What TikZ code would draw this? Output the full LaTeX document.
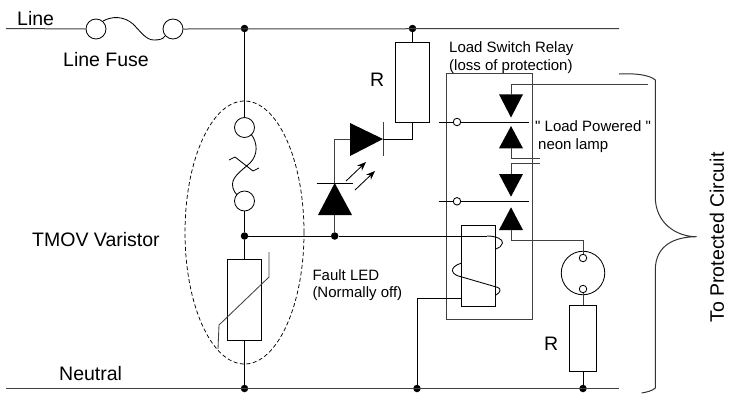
\documentclass[tikz,border=0pt]{standalone}
\usepackage{fontspec}
\setmainfont{Liberation Sans}
\newfontfamily\rawfont[Ligatures=ResetAll]{Liberation Sans}
\usetikzlibrary{arrows.meta}
\tikzset{
  wire/.style={line width=0.85bp,black},
  rail/.style={line width=1bp,black!75},
  jdot/.style={circle,fill=black,inner sep=0,minimum size=7.5bp},
  ring/.style={circle,draw,line width=0.85bp,fill=white,inner sep=0,minimum size=#1},
  res/.style={draw,line width=1bp,inner sep=0,outer sep=0},
  big/.style={font=\fontsize{19.5bp}{22bp}\selectfont,anchor=base west,inner sep=0},
  small/.style={font=\fontsize{15bp}{17bp}\selectfont,anchor=base west,inner sep=0},
  diode/.style={fill=black},
}
\begin{document}
\begin{tikzpicture}[x=1bp,y=-1bp]
\useasboundingbox (0,0) rectangle (735,394);
% rails
\coordinate (LineL) at (6,28.5); \coordinate (LineR) at (619,28.5);
\coordinate (NeuL) at (6,388.5); \coordinate (NeuR) at (619,388.5);
\node[ring=20bp] (F1) at (96,29) {};
\node[ring=20bp] (F2) at (173,29) {};
\node[jdot] (J1) at (244.5,28.5) {};
\node[jdot] (J2) at (412.5,28.5) {};
\node[jdot] (J3) at (244.5,388.5) {};
\node[jdot] (J4) at (417,388.5) {};
\node[jdot] (J5) at (583,388.5) {};
\node[jdot] (J6) at (244.5,236) {};
\node[jdot] (J7) at (334.7,236) {};
\draw[rail] (LineL) -- (F1.west);
\draw[rail] (F2.east) -- (LineR);
\draw[rail] (NeuL) -- (NeuR);
% line fuse
\draw[wire] (103,21) .. controls (112,16) and (124,16) .. (133,24)
  .. controls (141,32) and (146,40) .. (154,40) .. controls (160,40) and (163,39) .. (165,36);
% TMOV
\node[ring=20bp] (T1) at (244.5,127.5) {};
\node[ring=20bp] (T2) at (244.5,201) {};
\node[res,minimum width=33.5bp,minimum height=80.5bp] (V) at (244.5,300) {};
\draw[wire] (J1) -- (T1);
\draw[wire] (T2) -- (J6);
\draw[wire] (J6) -- (V);
\draw[wire] (V) -- (J3);
\draw[wire] (251,134) .. controls (258,143) and (258,155) .. (250,163)
  .. controls (240,172) and (230,178) .. (233,188) .. controls (234,191) and (235,193) .. (237,195);
\draw[wire] (229,160) -- (235,157) -- (253,171) -- (259,168);
\draw[wire,black!75] (218,349) -- (219,325) -- (269,277) -- (269,252);
\draw[line width=0.75bp,dash pattern=on 4bp off 2.5bp] (244.5,232.5) ellipse [x radius=59.5,y radius=131.5];
% LEDs
\coordinate (D1b) at (334.7,215); \coordinate (D1a) at (334.7,183);
\fill[diode] (318,215) -- (352,215) -- (D1a) -- cycle;
\draw[wire] (316.5,183) -- (353,183);
\draw[rail] (J7) -- (D1b);
\coordinate (D2b) at (350,139); \coordinate (D2a) at (383,139);
\fill[diode] (350,123) -- (350,156) -- (D2a) -- cycle;
\draw[rail] (383,122) -- (383,156);
\draw[rail] (D1a) |- (D2b);
\node[res,minimum width=33.5bp,minimum height=80bp] (R1) at (412.5,82.3) {};
\draw[wire] (J2) -- (R1);
\draw[wire] (D2a) -| (R1.south);
\draw[wire,-{Stealth[length=9bp,width=7bp]}] (346,181) -- (366,162);
\draw[wire,-{Stealth[length=9bp,width=7bp]}] (355,190) -- (375,171);
% relay box
\draw[rail] (446,73.3) rectangle (532.3,319);
\coordinate (Top) at (648,84.5); \coordinate (TopB) at (511,84.5);
\fill[diode] (499,94.3) -- (523,94.3) -- (511,117.5) -- cycle;
\draw[rail] (Top) -- (TopB) -- (511,95);
\coordinate (M1L) at (438.7,122); \coordinate (M1R) at (529,122);
\node[ring=7.5bp] (C1) at (457,122) {};
\draw[wire] (M1L) -- (C1) -- (M1R);
\fill[diode] (499,148.3) -- (523,148.3) -- (511,126) -- cycle;
\draw[rail] (511,148) |- (540,158.3);
\draw[rail] (540,163.3) -| (511,175);
\fill[diode] (499,174) -- (523,174) -- (511,196.7) -- cycle;
\coordinate (M2L) at (438.7,201.3); \coordinate (M2R) at (529,201.3);
\node[ring=7.5bp] (C2) at (457,201.3) {};
\draw[wire] (M2L) -- (C2) -- (M2R);
\fill[diode] (499,230) -- (523,230) -- (511,207.3) -- cycle;
% lamp
\node[circle,draw,line width=0.85bp,inner sep=0,minimum size=43.5bp] (Lamp) at (583,273) {};
\node[ring=7.5bp] (LA) at (583,258) {};
\node[ring=7.5bp] (LB) at (583,289) {};
\node[res,minimum width=27.4bp,minimum height=66bp] (R2) at (583,338) {};
\draw[rail] (511,230) |- (583,240) -- (LA);
\draw[rail] (LB) -- (R2);
\draw[wire] (R2) -- (J5);
% coil
\node[res,minimum width=34bp,minimum height=80.7bp] (K) at (478.7,265.7) {};
\draw[wire] (J6) -- (J7);
\draw[wire] (J7) -- (487,236);
\draw[wire] (487,236) .. controls (496,236) and (503,239) .. (502.5,243) .. controls (502,246) and (499,248) .. (496,249);
\draw[wire] (461.7,263) .. controls (455,265) and (452,268) .. (452.5,271) .. controls (453,274) and (457,276) .. (462,277)
  -- (498,287.5) .. controls (501,289) and (501,292) .. (496,295);
\coordinate (KL) at (461.7,298.3);
\draw[wire] (KL) -| (J4);
% brace
\coordinate (BrTip) at (696.7,236.7);
\draw[line width=1bp,black!80] (619,74) .. controls (635,73) and (650,75) .. (655.3,80) -- (655.3,197)
  .. controls (655.3,222) and (675,236.7) .. (BrTip)
  .. controls (675,236.7) and (655.3,245) .. (655.3,270) -- (655.3,388) .. controls (652,391) and (647,392) .. (641.7,393);
% text
\node[big] (tLine) at (17,25) {Line};
\node[big] (tFuse) at (63,66.7) {Line Fuse};
\node[big] (tTMOV) at (32,246.7) {TMOV Varistor};
\node[big] (tNeu) at (59,380) {Neutral};
\node[big] (tR1) at (370,86.7) {R};
\node[big] (tR2) at (544,350) {R};
\node[small] (tLS) at (449,52.3) {Load Switch Relay};
\node[small] (tLS2) at (449,70.7) {(loss of protection)};
\node[small] (tFL) at (312.3,280) {Fault LED};
\node[small] (tFL2) at (312.3,297.7) {(Normally off)};
\node[small] (tLP) at (535,131.7) {{\rawfont "} Load Powered {\rawfont "}};
\node[small] (tNL) at (538,149) {neon lamp};
\node[big,anchor=center,rotate=90] (tTo) at (717,237.5) {To Protected Circuit};
\end{tikzpicture}
\end{document}
